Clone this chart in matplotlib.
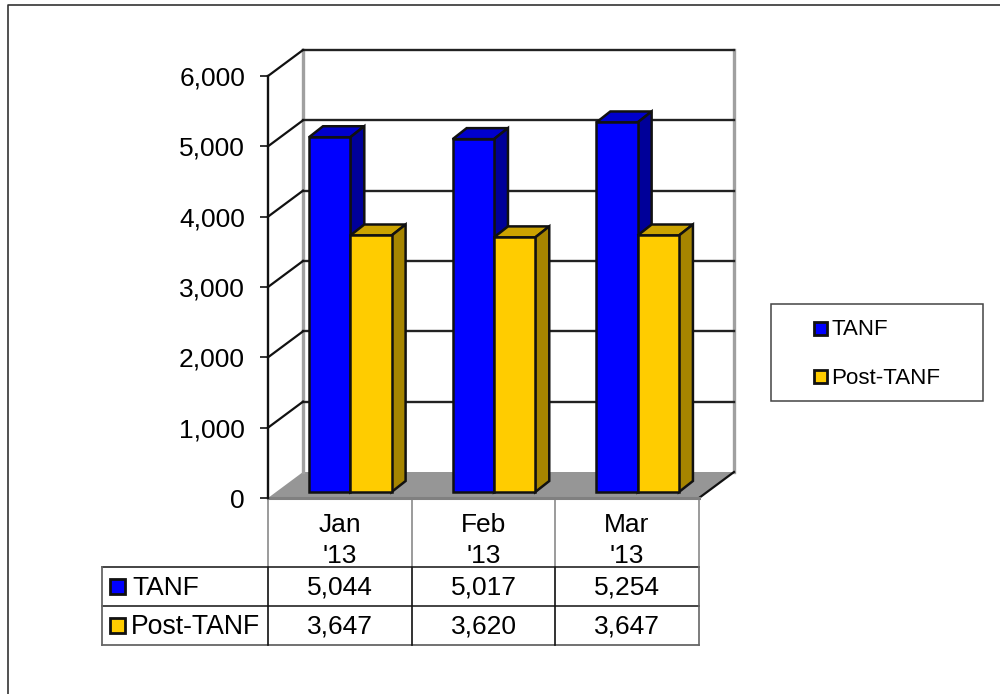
import matplotlib
matplotlib.use("Agg")
import matplotlib.pyplot as plt
from matplotlib.patches import Polygon, Rectangle

plt.rcParams['font.family'] = ['Liberation Sans', 'DejaVu Sans']

# data
months = ["Jan", "Feb", "Mar"]
year = "'13"
tanf = [5044, 5017, 5254]
post_tanf = [3647, 3620, 3647]
y_ticks = [0, 1000, 2000, 3000, 4000, 5000, 6000]

BLUE, BLUE_TOP, BLUE_SIDE = '#0000ff', '#0000cc', '#000099'
GOLD, GOLD_TOP, GOLD_SIDE = '#ffcc00', '#cca300', '#a68500'
INK = '#111111'

W, H = 1000, 694
fig = plt.figure(figsize=(W / 100, H / 100), dpi=100)

# full figure overlay in pixels, for the frame, table and legend
over = fig.add_axes([0, 0, 1, 1])
over.set_xlim(0, W)
over.set_ylim(H, 0)
over.axis('off')

# main axes is the front plane of the 3d box
left, right, top, bottom = 268, 699, 76, 498
ax = fig.add_axes([left / W, 1 - bottom / H, (right - left) / W, (bottom - top) / H])
ax.set_xlim(0, 3)
ax.set_ylim(0, 6000)
ax.patch.set_visible(False)

px_x = 3 / (right - left)
px_y = 6000 / (bottom - top)
back_x, back_y = 35 * px_x, 26 * px_y   # depth of box
bar_dx, bar_dy = 14 * px_x, 11 * px_y   # depth of bars
base = 6 * px_y
bar_w = 41.3 * px_x
bar_off = 41 * px_x

# floor and walls
ax.add_patch(Polygon([(0, 0), (3, 0), (3 + back_x, back_y), (back_x, back_y)],
                     closed=True, fc='#969696', ec='none', zorder=1, clip_on=False))
ax.plot([3, 3 + back_x], [0, back_y], color=INK, lw=1.6, zorder=1.5, clip_on=False)
ax.plot([0, 3], [0, 0], color='#808080', lw=2.2, zorder=1.5, clip_on=False)
ax.plot([back_x, back_x], [back_y, 6000 + back_y], color='#a0a0a0', lw=2.4, zorder=1.2, clip_on=False)
ax.plot([3 + back_x, 3 + back_x], [back_y, 6000 + back_y], color='#a0a0a0', lw=2.4, zorder=1.2, clip_on=False)

# grid runs along the left wall and then the back wall
for t in y_ticks[1:]:
    ax.plot([back_x, 3 + back_x], [t + back_y, t + back_y], color='#222222', lw=1.7, zorder=1.6, clip_on=False)
    ax.plot([0, back_x], [t, t + back_y], color=INK, lw=1.6, zorder=1.6, clip_on=False)


def box_bar(x, val, face, top_c, side, z):
    ax.bar([x], [val], width=bar_w, bottom=base, align='edge', color=face, edgecolor=INK,
           linewidth=1.8, zorder=z + 0.2, clip_on=False)
    y = val + base
    ax.add_patch(Polygon([(x, y), (x + bar_w, y), (x + bar_w + bar_dx, y + bar_dy), (x + bar_dx, y + bar_dy)],
                         closed=True, fc=top_c, ec=INK, lw=1.8, zorder=z, clip_on=False))
    ax.add_patch(Polygon([(x + bar_w, base), (x + bar_w + bar_dx, base + bar_dy),
                          (x + bar_w + bar_dx, y + bar_dy), (x + bar_w, y)],
                         closed=True, fc=side, ec=INK, lw=1.8, zorder=z, clip_on=False))


for i in range(3):
    box_bar(i + bar_off, tanf[i], BLUE, BLUE_TOP, BLUE_SIDE, 2 + i)
    box_bar(i + bar_off + bar_w, post_tanf[i], GOLD, GOLD_TOP, GOLD_SIDE, 2.5 + i)

# axis
for s in ['top', 'right', 'bottom']:
    ax.spines[s].set_visible(False)
ax.spines['left'].set_linewidth(1.7)
ax.spines['left'].set_color(INK)
ax.spines['left'].set_zorder(6)
ax.set_yticks(y_ticks)
ax.set_yticklabels([f'{t:,}' for t in y_ticks])
ax.tick_params(axis='y', length=5.5, width=1.2, color=INK, labelsize=19, pad=11, labelcolor='black')
ax.set_xticks([])

# outer frame, only top and left show
over.plot([8, 8, 1000], [694, 5, 5], color='#333333', lw=1.2)

# data table
col_x = [268, 412, 555, 699]
over.plot([102, 699], [567, 567], color=INK, lw=1.1)
over.plot([102, 699], [606, 606], color=INK, lw=1.1)
over.plot([102, 699], [645, 645], color='#666666', lw=1.3)
over.plot([102, 102], [567, 645], color='#666666', lw=1.3)
for i, x in enumerate(col_x):
    over.plot([x, x], [498, 567], color='#808080', lw=1.1)
    over.plot([x, x], [567, 645], color='#666666' if i == 3 else INK, lw=1.2)
for i, m in enumerate(months):
    cx = (col_x[i] + col_x[i + 1]) / 2
    over.text(cx, 532, m, ha='center', va='baseline', fontsize=19, color='black')
    over.text(cx, 563, year, ha='center', va='baseline', fontsize=19, color='black')
    over.text(cx, 595, f'{tanf[i]:,}', ha='center', va='baseline', fontsize=19, color='black')
    over.text(cx, 633.5, f'{post_tanf[i]:,}', ha='center', va='baseline', fontsize=19, color='black')

over.add_patch(Rectangle((110, 579), 14.5, 14.5, fc=BLUE, ec=INK, lw=2))
over.add_patch(Rectangle((110, 618), 14.5, 14.5, fc=GOLD, ec=INK, lw=2))
over.text(132.5, 595, 'TANF', ha='left', va='baseline', fontsize=19, color='black')
over.text(131, 633.5, 'Post-TANF', ha='left', va='baseline', fontsize=19.2, color='black')

# legend
over.add_patch(Rectangle((771, 304), 212, 97, fc='white', ec='#444444', lw=1.1))
over.add_patch(Rectangle((814, 322), 12.5, 12.5, fc=BLUE, ec=INK, lw=2))
over.add_patch(Rectangle((814, 370), 12.5, 12.5, fc=GOLD, ec=INK, lw=2))
over.text(831.5, 335, 'TANF', ha='left', va='baseline', fontsize=16, color='black')
over.text(831.5, 384, 'Post-TANF', ha='left', va='baseline', fontsize=16.1, color='black')

fig.savefig('out.png', dpi=100)
